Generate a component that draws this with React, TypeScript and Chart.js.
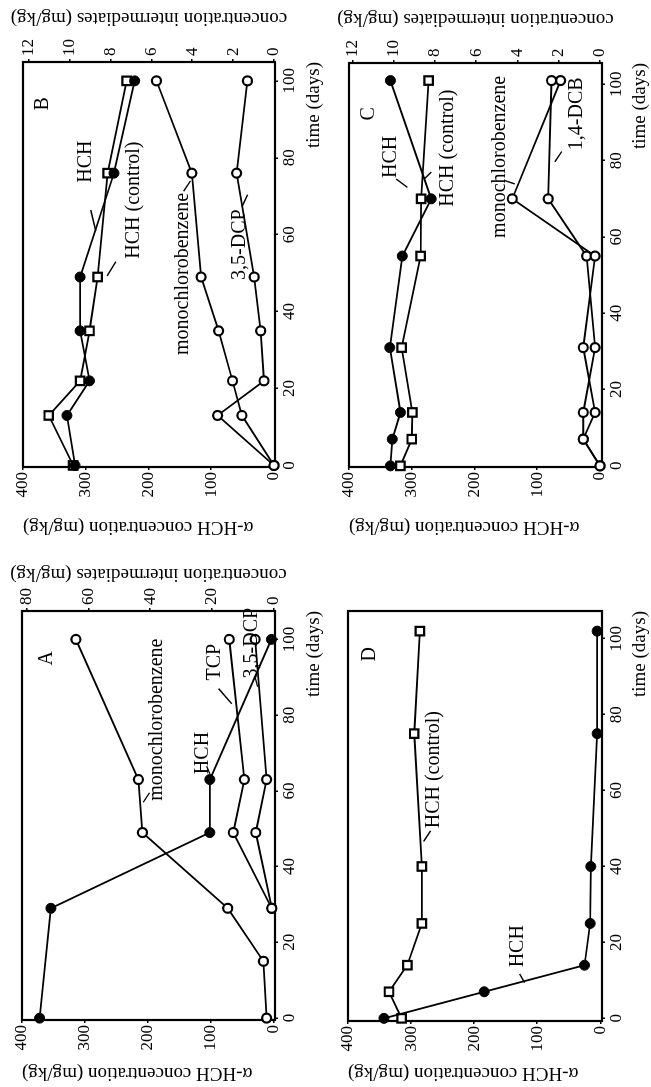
import React, { useEffect, useRef } from "react";
import { Chart, registerables } from "chart.js";
Chart.register(...registerables);

const FONT = "'Liberation Serif', 'Times New Roman', serif";
Chart.defaults.font.family = FONT;
Chart.defaults.color = "#000";

// ---------- tick labels ----------
const TIME_TICKS = [0, 20, 40, 60, 80, 100];
const HCH_TICKS = [0, 100, 200, 300, 400];
const INT_TICKS_A = [0, 20, 40, 60, 80];
const INT_TICKS_BC = [0, 2, 4, 6, 8, 10, 12];

// ---------- Panel A ----------
const A_TIME = [0, 15, 29, 49, 63, 100];
const A_HCH_TIME = [0, 29, 49, 63, 100];
const A_HCH = [372, 354, 101, 101, 3];
const A_MCB = [2.2, 3.2, 14.8, 42.5, 43.8, 64.1];
const A_TCP_TIME = [29, 49, 63, 100];
const A_TCP = [0.5, 13.0, 9.4, 14.3];
const A_DCP = [0.5, 5.7, 2.2, 5.9];

// ---------- Panel B ----------
const B_TIME = [0, 13, 22, 35, 49, 76, 100];
const B_HCH = [317, 330, 294, 309, 309, 255, 222];
const B_HCH_CTRL = [320, 359, 309, 294, 281, 265, 235];
const B_MCB = [0, 1.57, 2.03, 2.71, 3.57, 4.02, 5.75];
const B_DCP = [0, 2.76, 0.49, 0.65, 0.97, 1.83, 1.3];

// ---------- Panel C ----------
const C_TIME = [0, 7, 14, 31, 55, 70, 101];
const C_HCH = [334, 331, 318, 335, 315, 269, 334];
const C_HCH_CTRL = [318, 300, 299, 316, 286, 285, 273];
const C_MCB = [0, 0.81, 0.24, 0.81, 0.24, 4.25, 1.91];
const C_DCB = [0, 0.81, 0.81, 0.24, 0.65, 2.51, 2.35];

// ---------- Panel D ----------
const D_TIME = [0, 7, 14, 25, 40, 75, 102];
const D_HCH = [343, 184, 25, 16, 15, 5, 5];
const D_HCH_CTRL = [315, 335, 306, 283, 283, 295, 286];

// ---------- text labels (time, alpha-HCH value) ----------
const A_LABELS = [
  { s: "A", t: 95, v: 360 },
  { s: "monochlorobenzene", t: 78.8, v: 185 },
  { s: "HCH", t: 70, v: 113 },
  { s: "TCP", t: 94, v: 93 },
  { s: "3,5-DCP", t: 99, v: 34 },
];
const A_LEADERS = [
  [57, 207, 59.5, 197],
  [66.5, 106, 64.5, 101],
  [87, 87, 83, 66],
  [90, 29, 87.5, 25],
];
const B_LABELS = [
  { s: "B", t: 94, v: 368 },
  { s: "HCH", t: 79, v: 300 },
  { s: "HCH (control)", t: 69, v: 223 },
  { s: "monochlorobenzene", t: 49.8, v: 146 },
  { s: "3,5-DCP", t: 57.4, v: 54 },
];
const B_LEADERS = [
  [66.4, 292, 61, 284],
  [49.3, 266, 53, 252],
  [71.3, 144, 74, 133],
  [67.3, 51, 70.4, 42],
];
const C_LABELS = [
  { s: "C", t: 92.3, v: 368 },
  { s: "HCH", t: 81, v: 333 },
  { s: "HCH (control)", t: 83.3, v: 243 },
  { s: "monochlorobenzene", t: 81, v: 160 },
  { s: "1,4-DCB", t: 92.3, v: 37 },
];
const C_LEADERS = [
  [75.2, 325, 73, 307],
  [77, 269, 75.2, 280],
  [74.8, 152, 73.9, 136],
  [82.4, 61, 79.7, 72],
];
const D_LABELS = [
  { s: "D", t: 95.9, v: 365 },
  { s: "HCH (control)", t: 65.5, v: 264 },
  { s: "HCH", t: 19, v: 131 },
];
const D_LEADERS = [
  [49.4, 269, 46.6, 280],
  [11.7, 128, 9.4, 120],
];

const HCH_TITLE = "\u03b1-HCH concentration (mg/kg)";
const INT_TITLE = "concentration intermediates (mg/kg)";
const TIME_TITLE = "time (days)";

type Kind = "filled" | "open" | "square";

const pts = (t: number[], v: number[]) => t.map((x, i) => ({ x, y: v[i] }));

function ds(t: number[], v: number[], kind: Kind, axis: "y" | "y2") {
  const base: any = {
    data: pts(t, v),
    yAxisID: axis,
    borderColor: "#000",
    borderWidth: 1.8,
    tension: 0,
    fill: false,
    clip: false,
    pointBorderColor: "#000",
  };
  if (kind === "filled") {
    base.pointStyle = "circle";
    base.pointRadius = 5;
    base.pointBackgroundColor = "#000";
    base.pointBorderWidth = 1;
  } else if (kind === "open") {
    base.pointStyle = "circle";
    base.pointRadius = 4.5;
    base.pointBackgroundColor = "#fff";
    base.pointBorderWidth = 2.2;
  } else {
    base.pointStyle = "rect";
    base.pointRadius = 6;
    base.pointBackgroundColor = "#fff";
    base.pointBorderWidth = 2.2;
  }
  return base;
}

interface PanelCfg {
  left: number;
  top: number;
  w: number;
  h: number;
  area: { l: number; r: number; t: number; b: number };
  tMin: number;
  tMax: number;
  yMin: number;
  y2Max: number;
  y2Ticks: number[] | null;
  datasets: any[];
  labels: { s: string; t: number; v: number }[];
  leaders: number[][];
  titlePad: number;
  rightTitleOffset: number;
}

const PANELS: PanelCfg[] = [
  {
    left: 0, top: 0, w: 545, h: 325,
    area: { l: 67, r: 476, t: 22, b: 275 },
    tMin: -0.5, tMax: 107.5, yMin: -2.7, y2Max: 81.6, y2Ticks: INT_TICKS_A,
    datasets: [
      ds(A_HCH_TIME, A_HCH, "filled", "y"),
      ds(A_TIME, A_MCB, "open", "y2"),
      ds(A_TCP_TIME, A_TCP, "open", "y2"),
      ds(A_TCP_TIME, A_DCP, "open", "y2"),
    ],
    labels: A_LABELS, leaders: A_LEADERS, titlePad: 3, rightTitleOffset: 37,
  },
  {
    left: 545, top: 0, w: 542, h: 325,
    area: { l: 75, r: 480, t: 23, b: 275 },
    tMin: -0.4, tMax: 104.9, yMin: -1.6, y2Max: 12.28, y2Ticks: INT_TICKS_BC,
    datasets: [
      ds(B_TIME, B_HCH, "filled", "y"),
      ds(B_TIME, B_HCH_CTRL, "square", "y"),
      ds(B_TIME, B_MCB, "open", "y2"),
      ds(B_TIME, B_DCP, "open", "y2"),
    ],
    labels: B_LABELS, leaders: B_LEADERS, titlePad: 4, rightTitleOffset: 44,
  },
  {
    left: 0, top: 325, w: 545, h: 326,
    area: { l: 66, r: 476, t: 23, b: 277 },
    tMin: -0.7, tMax: 107.3, yMin: -2.7, y2Max: 12, y2Ticks: null,
    datasets: [
      ds(D_TIME, D_HCH, "filled", "y"),
      ds(D_TIME, D_HCH_CTRL, "square", "y"),
    ],
    labels: D_LABELS, leaders: D_LEADERS, titlePad: 3, rightTitleOffset: 0,
  },
  {
    left: 545, top: 325, w: 542, h: 326,
    area: { l: 75, r: 479, t: 24, b: 277 },
    tMin: -0.3, tMax: 105.6, yMin: -3.2, y2Max: 12.16, y2Ticks: INT_TICKS_BC,
    datasets: [
      ds(C_TIME, C_HCH, "filled", "y"),
      ds(C_TIME, C_HCH_CTRL, "square", "y"),
      ds(C_TIME, C_MCB, "open", "y2"),
      ds(C_TIME, C_DCB, "open", "y2"),
    ],
    labels: C_LABELS, leaders: C_LEADERS, titlePad: 4, rightTitleOffset: 44,
  },
];

function buildChart(canvas: HTMLCanvasElement, cfg: PanelCfg) {
  const { area } = cfg;
  const bottomH = cfg.h - area.b;
  const rightW = cfg.w - area.r;
  const y2Min = (cfg.yMin * cfg.y2Max) / 400;
  const tickFont = { size: 17, family: FONT };
  const titleFont = { size: 19, family: FONT };
  const tickGrid = {
    display: true,
    drawOnChartArea: false,
    drawTicks: true,
    tickLength: 3,
    color: "#000",
    lineWidth: 1.5,
  };

  const decor = {
    id: "decor",
    beforeDatasetsDraw(chart: any) {
      const ctx = chart.ctx;
      const ca = chart.chartArea;
      ctx.save();
      ctx.strokeStyle = "#000";
      ctx.lineWidth = 2.2;
      ctx.strokeRect(ca.left, ca.top, ca.right - ca.left, ca.bottom - ca.top);
      ctx.restore();
    },
    afterDraw(chart: any) {
      const ctx = chart.ctx;
      const ca = chart.chartArea;
      const xs = chart.scales.x;
      const ys = chart.scales.y;
      ctx.save();
      ctx.fillStyle = "#000";
      ctx.strokeStyle = "#000";
      ctx.textAlign = "center";
      ctx.textBaseline = "middle";
      ctx.font = `20px ${FONT}`;
      for (const L of cfg.labels) {
        ctx.fillText(L.s, xs.getPixelForValue(L.t), ys.getPixelForValue(L.v));
      }
      ctx.lineWidth = 1.4;
      for (const l of cfg.leaders) {
        ctx.beginPath();
        ctx.moveTo(xs.getPixelForValue(l[0]), ys.getPixelForValue(l[1]));
        ctx.lineTo(xs.getPixelForValue(l[2]), ys.getPixelForValue(l[3]));
        ctx.stroke();
      }
      if (cfg.y2Ticks) {
        ctx.font = `19px ${FONT}`;
        ctx.translate(ca.right + cfg.rightTitleOffset, (ca.top + ca.bottom) / 2);
        ctx.rotate(-Math.PI / 2);
        ctx.fillText(INT_TITLE, 0, 0);
      }
      ctx.restore();
    },
  };

  return new Chart(canvas, {
    type: "line",
    data: { datasets: cfg.datasets },
    plugins: [decor],
    options: {
      animation: false,
      responsive: false,
      devicePixelRatio: 1,
      events: [],
      layout: { padding: { top: area.t, left: 0, right: 0, bottom: 0 } },
      plugins: {
        legend: { display: false },
        tooltip: { enabled: false },
        title: { display: false },
      },
      scales: {
        x: {
          type: "linear",
          position: "bottom",
          min: cfg.tMin,
          max: cfg.tMax,
          afterBuildTicks: (s: any) => {
            s.ticks = TIME_TICKS.map((value) => ({ value }));
          },
          afterFit: (s: any) => {
            s.height = bottomH;
            s.paddingLeft = 0;
            s.paddingRight = 0;
          },
          ticks: { font: tickFont, padding: 1, maxRotation: 0, minRotation: 0, autoSkip: false, color: "#000" },
          grid: tickGrid,
          border: { display: false },
          title: { display: true, text: TIME_TITLE, align: "end", font: titleFont, padding: { top: 0, bottom: 0 }, color: "#000" },
        },
        y: {
          type: "linear",
          position: "left",
          min: cfg.yMin,
          max: 400,
          afterBuildTicks: (s: any) => {
            s.ticks = HCH_TICKS.map((value) => ({ value }));
          },
          afterFit: (s: any) => {
            s.width = area.l;
            s.paddingTop = 0;
            s.paddingBottom = 0;
          },
          ticks: { font: tickFont, padding: 2, color: "#000" },
          grid: tickGrid,
          border: { display: false },
          title: { display: true, text: HCH_TITLE, align: "end", font: titleFont, padding: { top: cfg.titlePad, bottom: 0 }, color: "#000" },
        },
        y2: {
          type: "linear",
          position: "right",
          min: y2Min,
          max: cfg.y2Max,
          afterBuildTicks: (s: any) => {
            s.ticks = (cfg.y2Ticks || []).map((value) => ({ value }));
          },
          afterFit: (s: any) => {
            s.width = rightW;
            s.paddingTop = 0;
            s.paddingBottom = 0;
          },
          ticks: { display: !!cfg.y2Ticks, font: tickFont, padding: 3, color: "#000" },
          grid: { ...tickGrid, display: !!cfg.y2Ticks },
          border: { display: false },
        },
      },
    } as any,
  });
}

function Panel({ cfg }: { cfg: PanelCfg }) {
  const ref = useRef<HTMLCanvasElement>(null);
  useEffect(() => {
    const chart = buildChart(ref.current as HTMLCanvasElement, cfg);
    return () => chart.destroy();
  }, []);
  return (
    <canvas
      ref={ref}
      width={cfg.w}
      height={cfg.h}
      style={{ position: "absolute", left: cfg.left, top: cfg.top, width: cfg.w, height: cfg.h }}
    />
  );
}

export default function App() {
  return (
    <div style={{ position: "absolute", left: 0, top: 0, width: 651, height: 1087, overflow: "hidden", background: "#fff" }}>
      <div
        style={{
          position: "absolute",
          left: 0,
          top: 0,
          width: 1087,
          height: 651,
          transformOrigin: "0 0",
          transform: "translate(0px, 1087px) rotate(-90deg)",
        }}
      >
        {PANELS.map((p, i) => (
          <Panel key={i} cfg={p} />
        ))}
      </div>
    </div>
  );
}
